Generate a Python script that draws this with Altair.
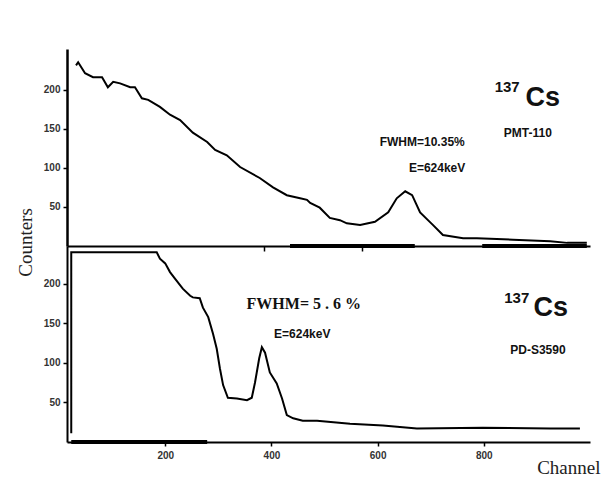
import altair as alt
import pandas as pd

# ---- data ----
# Top panel: PMT-110 spectrum (channel, counts)
pmt_channel = [32, 36, 49, 64, 81, 92, 102, 115, 134, 143, 156, 168, 190, 209, 228,
               252, 279, 294, 316, 341, 378, 403, 429, 454, 467, 473, 491, 510, 529,
               542, 567, 595, 620, 636, 652, 665, 680, 704, 723, 761, 787, 855, 925,
               957, 994]
pmt_counts = [231, 235, 221, 216, 216, 203, 210, 208, 203, 203, 189, 187, 178, 168, 161,
              145, 133, 123, 116, 101, 87, 75, 65, 61, 59, 55, 49, 36, 33,
              29, 27, 31, 43, 61, 70, 65, 43, 27, 14, 10, 10, 8, 6,
              4, 4]

# Bottom panel: PD-S3590 spectrum (channel, counts; saturated at top of panel)
pd_channel = [23, 23, 184, 190, 200, 209, 218, 233, 247, 252, 265, 271, 281, 290, 297,
              303, 309, 318, 335, 354, 363, 369, 377, 382, 388, 397, 410, 420, 429,
              441, 459, 486, 548, 610, 674, 798, 925, 981]
pd_counts = [11, 240, 240, 232, 226, 215, 207, 194, 185, 183, 182, 170, 158, 137, 118,
             93, 72, 56, 55, 53, 56, 75, 106, 120, 113, 88, 74, 55, 34,
             30, 27, 27, 23, 21, 17, 18, 17, 17]

# thick baseline segments (scan artefacts on the axes)
top_base_start = [435, 797]
top_base_end = [670, 994]
bot_base_start = [23]
bot_base_end = [279]

y_ticks = [50, 100, 150, 200]
x_ticks = [200, 400, 600, 800]
top_x_ticks = [386, 571]

# annotations
top_text = ["137", "Cs", "PMT-110", "FWHM=10.35%", "E=624keV"]
top_text_ch = [844, 911, 883, 684, 712]
top_text_ct = [203.5, 189.5, 144, 132.6, 99.4]
top_text_size = [15, 27, 12, 12, 12]

bot_text = ["E=624keV", "137", "Cs", "PD-S3590"]
bot_text_ch = [458, 862, 926, 902]
bot_text_ct = [137, 182, 170, 117]
bot_text_size = [12, 15, 27, 12]

fwhm_text = ["FWHM= 5 . 6 %"]
fwhm_ch = [461]
fwhm_ct = [174]

W, H1, H2 = 523, 197, 196
XDOM = [15, 1000]

top_df = pd.DataFrame({"ch": pmt_channel, "ct": pmt_counts, "i": range(len(pmt_channel))})
bot_df = pd.DataFrame({"ch": pd_channel, "ct": pd_counts, "i": range(len(pd_channel))})

xs = alt.Scale(domain=XDOM, nice=False, zero=False)

# ---- top panel ----
top_line = alt.Chart(top_df).mark_line(color="black", strokeWidth=2).encode(
    x=alt.X("ch:Q", scale=xs,
            axis=alt.Axis(values=top_x_ticks, labels=False, title=None, grid=False,
                          domainColor="black", domainWidth=2, tickColor="black",
                          tickWidth=1.5, tickSize=5)),
    y=alt.Y("ct:Q", scale=alt.Scale(domain=[0, 252], nice=False),
            axis=alt.Axis(values=y_ticks, grid=False, domainColor="black", domainWidth=2.5,
                          tickColor="black", tickWidth=1.5, tickSize=4, labelPadding=3,
                          labelFont="Liberation Sans", labelFontWeight="bold",
                          labelFontSize=10, labelColor="#333",
                          title="Counters", titleFont="Liberation Serif",
                          titleFontSize=19, titleFontWeight="normal", titleColor="#222",
                          titleAngle=270, titleX=-42, titleY=193, titleAlign="center",
                          titleBaseline="middle")),
    order="i:Q",
)
top_base = alt.Chart(pd.DataFrame({"a": top_base_start, "b": top_base_end, "z": [0] * 2})).mark_rule(
    color="black", strokeWidth=4).encode(x="a:Q", x2="b:Q", y="z:Q")
top_txt = alt.Chart(pd.DataFrame({"t": top_text, "ch": top_text_ch, "ct": top_text_ct,
                                  "s": top_text_size})).mark_text(
    font="Liberation Sans", fontWeight="bold", color="#111", align="center",
    baseline="middle").encode(x="ch:Q", y="ct:Q", text="t:N",
                              size=alt.Size("s:Q", scale=None, legend=None))
top = alt.layer(top_line, top_base, top_txt).properties(width=W, height=H1)

# ---- bottom panel ----
bot_line = alt.Chart(bot_df).mark_line(color="black", strokeWidth=2).encode(
    x=alt.X("ch:Q", scale=xs,
            axis=alt.Axis(values=x_ticks, grid=False, domainColor="black", domainWidth=2,
                          tickColor="black", tickWidth=1.5, tickSize=4,
                          labelFont="Liberation Sans", labelFontWeight="bold",
                          labelFontSize=10, labelColor="#333", labelPadding=4,
                          title="Channel", titleFont="Liberation Serif", titleFontSize=19,
                          titleFontWeight="normal", titleColor="#222",
                          titleX=533, titleY=25, titleAlign="right",
                          titleBaseline="middle")),
    y=alt.Y("ct:Q", scale=alt.Scale(domain=[0, 248], nice=False),
            axis=alt.Axis(values=y_ticks, title=None, grid=False, domainColor="black",
                          domainWidth=2, tickColor="black", tickWidth=1.5, tickSize=4,
                          labelPadding=3, labelFont="Liberation Sans",
                          labelFontWeight="bold", labelFontSize=10, labelColor="#333")),
    order="i:Q",
)
bot_base = alt.Chart(pd.DataFrame({"a": bot_base_start, "b": bot_base_end, "z": [0]})).mark_rule(
    color="black", strokeWidth=4).encode(x="a:Q", x2="b:Q", y="z:Q")
bot_txt = alt.Chart(pd.DataFrame({"t": bot_text, "ch": bot_text_ch, "ct": bot_text_ct,
                                  "s": bot_text_size})).mark_text(
    font="Liberation Sans", fontWeight="bold", color="#111", align="center",
    baseline="middle").encode(x="ch:Q", y="ct:Q", text="t:N",
                              size=alt.Size("s:Q", scale=None, legend=None))
fwhm_txt = alt.Chart(pd.DataFrame({"t": fwhm_text, "ch": fwhm_ch, "ct": fwhm_ct})).mark_text(
    font="Liberation Serif", fontWeight="bold", fontSize=16, color="#111", align="center",
    baseline="middle").encode(x="ch:Q", y="ct:Q", text="t:N")
bottom = alt.layer(bot_line, bot_base, bot_txt, fwhm_txt).properties(width=W, height=H2)

chart = alt.vconcat(top, bottom, spacing=0, bounds="flush").properties(
    padding={"left": 8, "top": 41, "right": 5, "bottom": 5},
    background="white",
).configure_view(stroke=None)

chart.save("out.html", embed_options={"renderer": "svg", "actions": False})
